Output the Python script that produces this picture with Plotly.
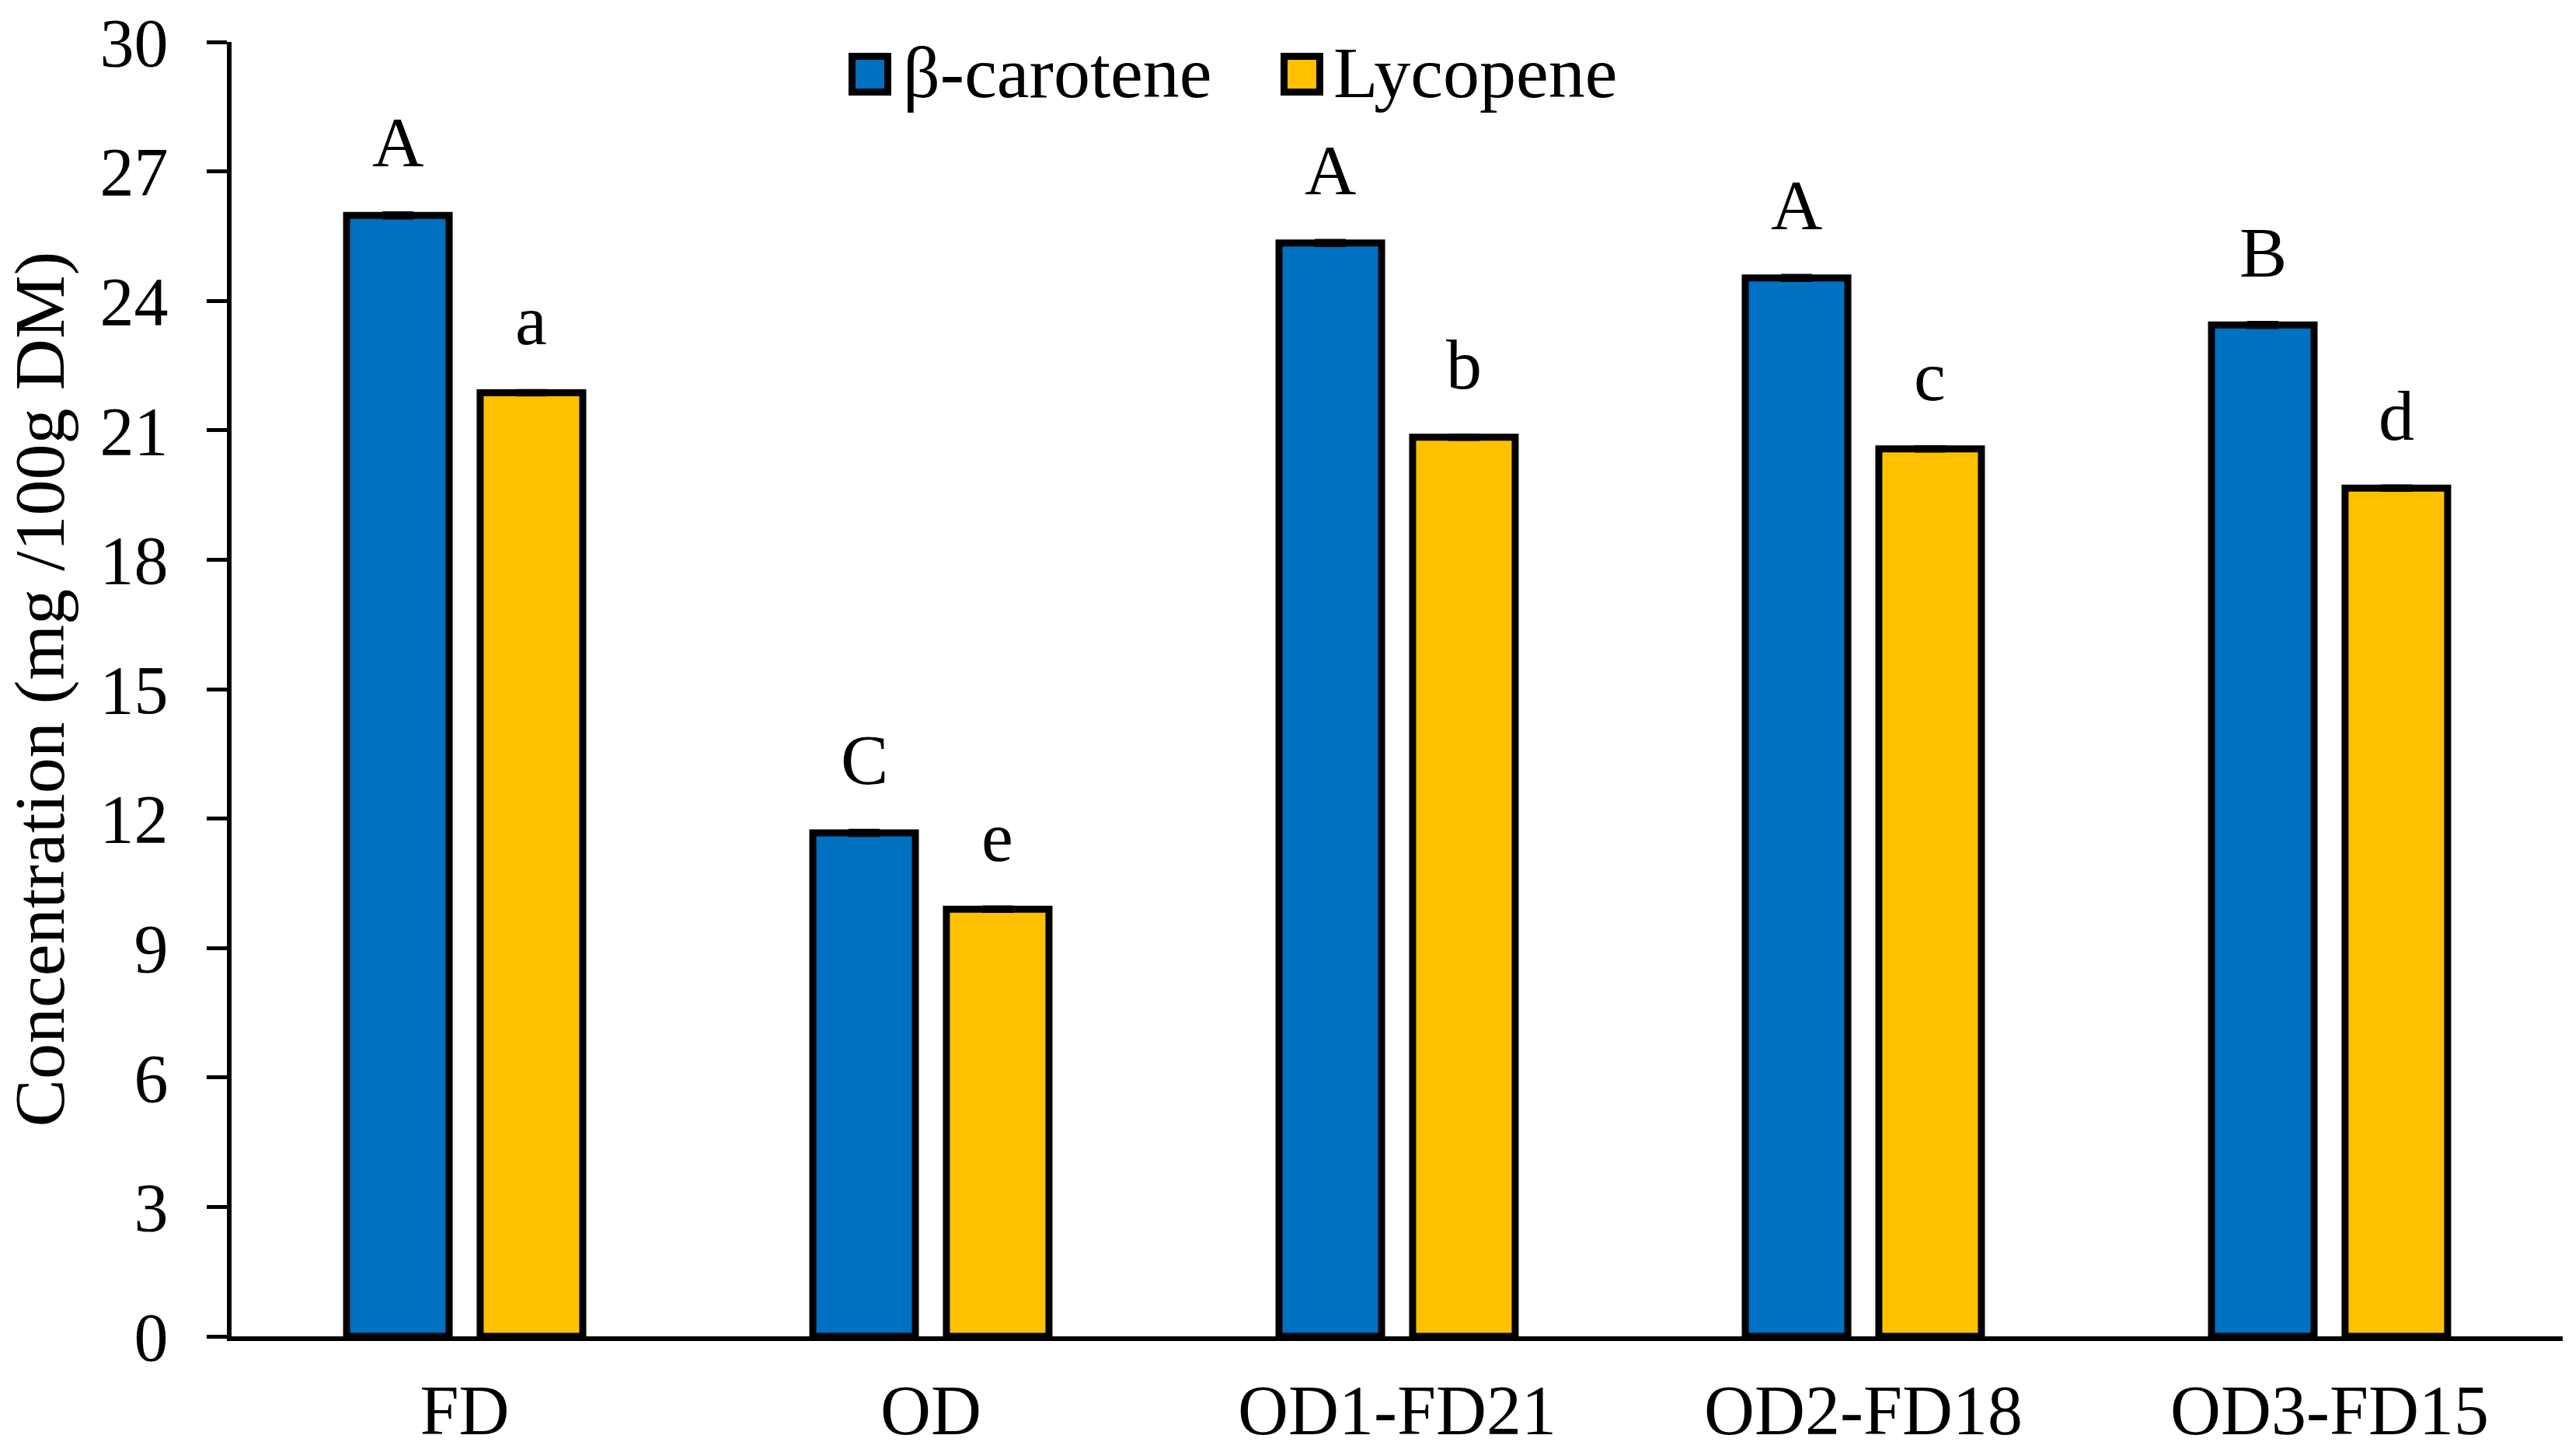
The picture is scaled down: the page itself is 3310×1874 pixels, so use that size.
import plotly.graph_objects as go

categories = ["FD", "OD", "OD1-FD21", "OD2-FD18", "OD3-FD15"]
beta_carotene = [25.98, 11.67, 25.34, 24.53, 23.44]
lycopene = [21.87, 9.90, 20.84, 20.57, 19.66]
beta_err = [0.05, 0.05, 0.05, 0.05, 0.05]
lyco_err = [0.04, 0.04, 0.04, 0.04, 0.04]
beta_letters = ["A", "C", "A", "A", "B"]
lyco_letters = ["a", "e", "b", "c", "d"]
y_ticks = [0, 3, 6, 9, 12, 15, 18, 21, 24, 27, 30]

BLUE = "#0070C0"
YELLOW = "#FFC000"
FONT = "Times New Roman, Liberation Serif, serif"

W, H = 3310, 1874
ML, MR, MT, MB = 298, 12, 54, 154
PW, PH = W - ML - MR, H - MT - MB

fig = go.Figure()
fig.add_trace(go.Bar(
    x=categories, y=beta_carotene, name="β-carotene",
    marker=dict(color=BLUE, line=dict(color="black", width=9)),
    error_y=dict(type="data", array=beta_err, color="black", thickness=5, width=20),
    showlegend=False,
))
fig.add_trace(go.Bar(
    x=categories, y=lycopene, name="Lycopene",
    marker=dict(color=YELLOW, line=dict(color="black", width=9)),
    error_y=dict(type="data", array=lyco_err, color="black", thickness=5, width=20),
    showlegend=False,
))

# significance letters above the bars
off = 0.1433
for i in range(len(categories)):
    fig.add_annotation(x=i - off, y=beta_carotene[i] + beta_err[i], text=beta_letters[i],
                       showarrow=False, yanchor="bottom", yshift=38,
                       font=dict(family=FONT, size=92, color="black"))
    fig.add_annotation(x=i + off, y=lycopene[i] + lyco_err[i], text=lyco_letters[i],
                       showarrow=False, yanchor="bottom", yshift=38,
                       font=dict(family=FONT, size=92, color="black"))

# legend drawn by hand so the swatches match the big font
def px_x(p):
    return (p - ML) / PW

def px_y(p):
    return (H - MB - p) / PH

legend_items = [("β-carotene", BLUE, 1096.5, 1160), ("Lycopene", YELLOW, 1652.5, 1714)]
for label, col, sx, tx in legend_items:
    fig.add_shape(type="rect", xref="paper", yref="paper",
                  x0=px_x(sx), x1=px_x(sx + 46), y0=px_y(118.5), y1=px_y(72.5),
                  fillcolor=col, line=dict(color="black", width=9))
    fig.add_annotation(xref="paper", yref="paper", x=px_x(tx), y=px_y(93),
                       text=label, showarrow=False, xanchor="left", yanchor="middle",
                       font=dict(family=FONT, size=94, color="black"))

fig.update_layout(
    width=W, height=H,
    margin=dict(l=ML, r=MR, t=MT, b=MB, autoexpand=False),
    barmode="group", bargap=0.427, bargroupgap=0.232,
    plot_bgcolor="white", paper_bgcolor="white",
    font=dict(family=FONT, size=90, color="black"),
    showlegend=False,
)
fig.update_xaxes(
    showline=True, linecolor="black", linewidth=6, ticks="",
    showgrid=False, tickfont=dict(size=90), ticklabelstandoff=12, automargin=False,
)
fig.update_yaxes(
    range=[0, 30], tickvals=y_ticks, showline=True, linecolor="black", linewidth=6,
    ticks="outside", ticklen=26, tickwidth=5, tickcolor="black", automargin=False,
    showgrid=False, zeroline=False, tickfont=dict(size=88), ticklabelstandoff=32,
    ticklabeloverflow="allow",
    title=dict(text="Concentration (mg /100g DM)", font=dict(size=92), standoff=20),
)

# drop the page's default body margin so the figure sits at the window corner
fig.write_html("out.html", config={"displayModeBar": False},
               post_script="document.body.style.margin='0';")
